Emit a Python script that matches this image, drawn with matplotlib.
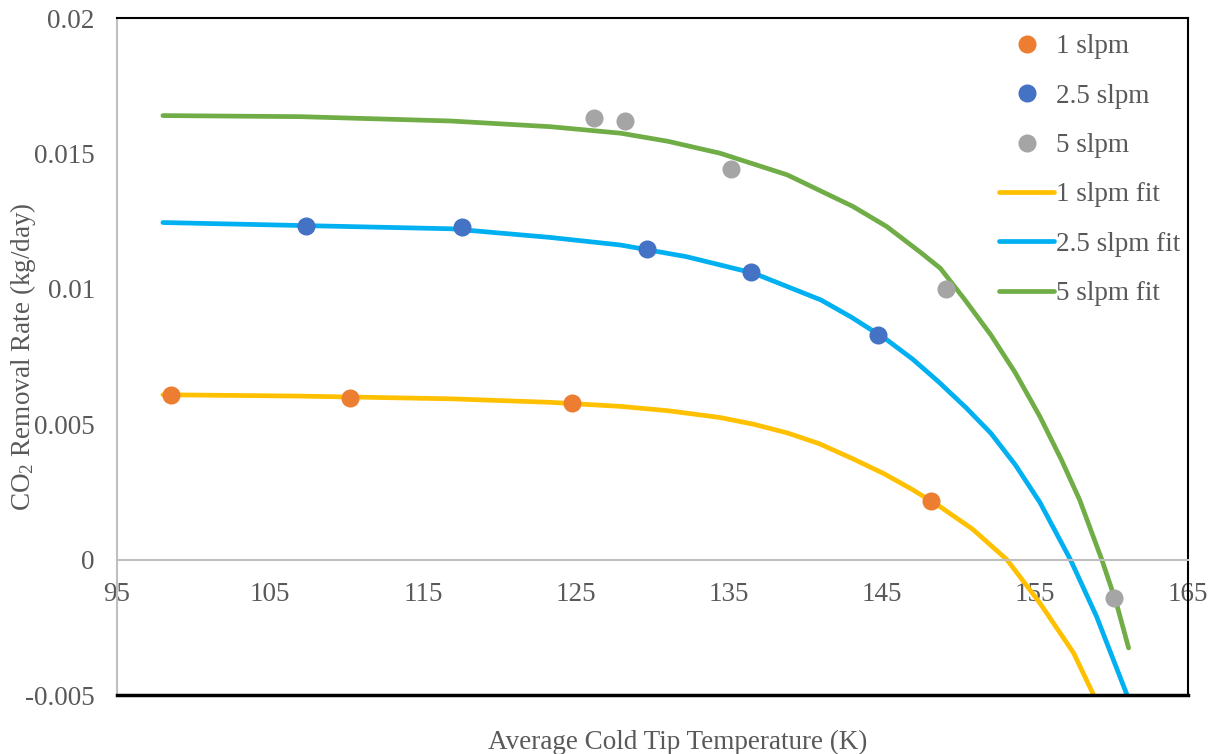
import numpy as np
import matplotlib
matplotlib.use("Agg")
import matplotlib.pyplot as plt
from matplotlib.ticker import FuncFormatter

plt.rcParams['font.family'] = ['Liberation Serif', 'DejaVu Serif']
plt.rcParams['mathtext.fontset'] = 'custom'
plt.rcParams['mathtext.rm'] = 'Liberation Serif'
plt.rcParams['mathtext.it'] = 'Liberation Serif:italic'

TEXT = "#595959"
FS = 19.5

# measured points
x_1 = [98.5, 110.2, 124.7, 148.2]
y_1 = [0.00609, 0.00597, 0.00579, 0.00218]
x_25 = [107.35, 117.55, 129.65, 136.45, 144.7]
y_25 = [0.01232, 0.01229, 0.01148, 0.01063, 0.0083]
x_5 = [126.2, 128.2, 135.15, 149.2, 160.15]
y_5 = [0.01631, 0.0162, 0.01443, 0.0100, -0.00142]

# fit curves, read along the drawn trendlines
fit1_x = [98.0, 107.0, 116.8, 123.3, 127.9, 131.0, 134.4, 136.6, 138.8, 140.9,
          143.1, 145.1, 147.0, 148.8, 150.9, 153.15, 155.3, 157.5, 158.8]
fit1_y = [0.00609, 0.00604, 0.00594, 0.00581, 0.00566, 0.0055, 0.00525, 0.005,
          0.00468, 0.00428, 0.00372, 0.00318, 0.00258, 0.00195, 0.00113, 0.0,
          -0.0016, -0.00344, -0.00498]
fit25_x = [98.0, 107.0, 116.8, 123.3, 127.9, 132.2, 136.6, 141.0, 143.0, 145.3,
           147.0, 148.7, 150.5, 152.1, 153.7, 155.3, 157.3, 159.0, 161.0]
fit25_y = [0.01245, 0.01234, 0.01222, 0.0119, 0.01162, 0.01119, 0.01058, 0.00959,
           0.00895, 0.00812, 0.0074, 0.00656, 0.0056, 0.00467, 0.0035, 0.00212,
           0.0, -0.00209, -0.005]
fit5_x = [98.0, 107.0, 116.8, 123.3, 127.9, 131.0, 134.4, 138.8, 143.1, 145.3,
          147.5, 148.8, 150.4, 152.1, 153.7, 155.3, 156.7, 157.9, 159.35, 160.3, 161.1]
fit5_y = [0.0164, 0.01636, 0.0162, 0.01599, 0.01575, 0.01545, 0.01501, 0.01421,
          0.01304, 0.0123, 0.01135, 0.01076, 0.0096, 0.0083, 0.0069, 0.00529,
          0.0037, 0.00221, 0.0, -0.0016, -0.00326]

fig = plt.figure(figsize=(12.16, 7.54), dpi=100)
ax = fig.add_axes([0.0962, 0.0782, 0.881, 0.8978])

ax.plot(fit1_x, fit1_y, color="#FFC000", lw=3.4, solid_capstyle="round",
        solid_joinstyle="round", label="1 slpm fit", zorder=2)
ax.plot(fit25_x, fit25_y, color="#00B0F0", lw=3.4, solid_capstyle="round",
        solid_joinstyle="round", label="2.5 slpm fit", zorder=2)
ax.plot(fit5_x, fit5_y, color="#70AD47", lw=3.4, solid_capstyle="round",
        solid_joinstyle="round", label="5 slpm fit", zorder=2)

ax.plot(x_1, y_1, 'o', color="#ED7D31", ms=12, label="1 slpm", zorder=3)
ax.plot(x_25, y_25, 'o', color="#4472C4", ms=12, label="2.5 slpm", zorder=3)
ax.plot(x_5, y_5, 'o', color="#A5A5A5", ms=12, label="5 slpm", zorder=3)

ax.set_xlim(95, 165)
ax.set_ylim(-0.005, 0.02)
ax.set_xticks(np.arange(95, 166, 10))
ax.set_yticks([-0.005, 0, 0.005, 0.01, 0.015, 0.02])
ax.yaxis.set_major_formatter(FuncFormatter(lambda v, p: "0" if abs(v) < 1e-12 else f"{v:g}"))

ax.spines['bottom'].set_position(('data', 0))
ax.spines['bottom'].set_color("#BFBFBF")
ax.spines['bottom'].set_linewidth(1.5)
ax.spines['left'].set_color("#BFBFBF")
ax.spines['left'].set_linewidth(1.5)
for s in ['top', 'right']:
    ax.spines[s].set_color("black")
    ax.spines[s].set_linewidth(1.5)
ax.axhline(-0.005, color="black", lw=2.5, clip_on=False, zorder=4)

ax.tick_params(length=0, labelsize=FS, colors=TEXT)
ax.tick_params(axis='x', pad=16)
ax.tick_params(axis='y', pad=16)

ax.set_xlabel("Average Cold Tip Temperature (K)", fontsize=FS, color=TEXT, labelpad=0)
ax.xaxis.set_label_coords(0.523, -0.052)
ax.set_ylabel("CO$_2$ Removal Rate (kg/day)", fontsize=FS, color=TEXT)
ax.yaxis.set_label_coords(-0.074, 0.5)

handles, labels = ax.get_legend_handles_labels()
order = [3, 4, 5, 0, 1, 2]
leg = ax.legend([handles[i] for i in order], [labels[i] for i in order],
                loc="upper right", bbox_to_anchor=(1.008, 1.0), frameon=False,
                fontsize=FS, labelcolor=TEXT, handlelength=2.0, handletextpad=0.1,
                labelspacing=0.9, borderaxespad=0.2)

fig.savefig("out.png", dpi=100)
